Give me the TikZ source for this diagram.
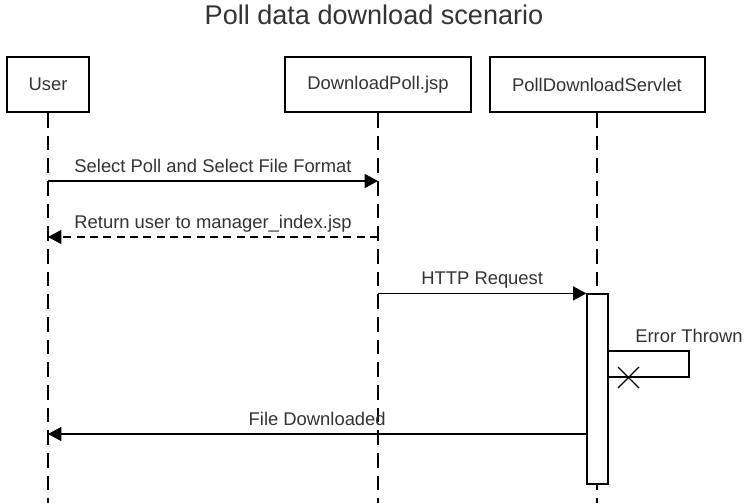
\documentclass[tikz,border=0pt]{standalone}
\usepackage{fontspec}
\setmainfont{Liberation Sans}
\usetikzlibrary{arrows.meta,positioning}

\begin{document}
\begin{tikzpicture}[
    x=0.75pt, y=-0.75pt,
    every node/.style={text=black!80, font=\fontsize{13.8}{16}\selectfont},
    actor/.style={draw, line width=1.5pt, minimum height=41.25pt, inner sep=0pt},
    life/.style={line width=1pt, dash pattern=on 11pt off 6pt},
    msg/.style={line width=1pt, -{Triangle[length=10pt,width=10.5pt]}},
    reply/.style={msg, dash pattern=on 6pt off 4pt},
    lbl/.style={anchor=base, inner sep=0pt, yshift=6.5pt}
]
\useasboundingbox (0,0) rectangle (746,503);

\node[anchor=base, font=\fontsize{20.3}{24}\selectfont] (title) at (374,25) {Poll data download scenario};

\node[actor, minimum width=61.5pt] (user) at (48,84.5) {User};
\node[actor, minimum width=139.5pt] (jsp) at (378,84.5) {DownloadPoll.jsp};
\node[actor, minimum width=161.25pt] (servlet) at (597,84.5) {PollDownloadServlet};

\coordinate (bottom) at (0,503);
\draw[life] (user.south) -- (user.south |- bottom);
\draw[life] (jsp.south) -- (jsp.south |- bottom);
\draw[life] (servlet.south) -- (servlet.south |- bottom);

\node[draw, fill=white, line width=0.9pt, minimum width=15.75pt, minimum height=142.5pt, inner sep=0pt] (act) at (597.5,389) {};

% message levels
\coordinate (m1) at (0,181);
\coordinate (m2) at (0,237);
\coordinate (m5) at (0,434);
\coordinate (err1) at (689,351);
\coordinate (err2) at (689,377);
\coordinate (xmark) at (628.5,377.5);

\draw[msg] (user |- m1) -- node[lbl] {Select Poll and Select File Format} (jsp |- m1);
\draw[reply] (jsp |- m2) -- node[lbl] {Return user to manager\_index.jsp} (user |- m2);
\draw[msg] (jsp |- act.north) -- node[lbl] {HTTP Request} (act.north west);

\draw[line width=1pt] (act.east |- err1) -- (err1) -- (err2) -- (act.east |- err2);
\node[lbl] at (err1) {Error Thrown};
\draw[line width=1pt] (xmark) +(-10.5,-10.5) -- +(10.5,10.5)
                      (xmark) +(-10.5,10.5) -- +(10.5,-10.5);

\draw[msg] (act.west |- m5) -- node[lbl] {File Downloaded} (user |- m5);
\end{tikzpicture}
\end{document}
